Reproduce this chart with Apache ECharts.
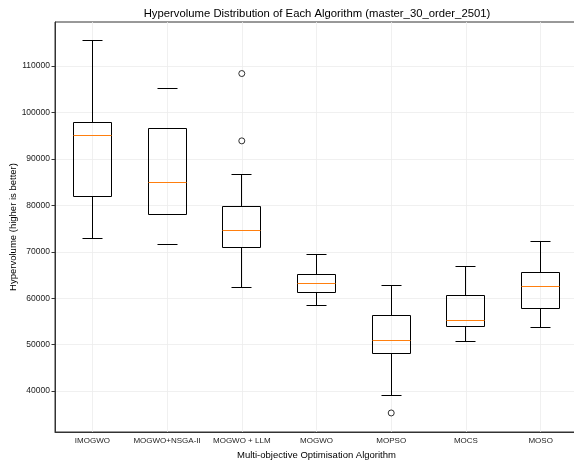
<!DOCTYPE html>
<html>
<head>
    <meta charset="utf-8">
    <title>Hypervolume boxplot</title>
    <script src="https://cdn.jsdelivr.net/npm/echarts@6/dist/echarts.min.js"></script>
</head>
<body style="margin:0;background:#fff;">
    <div id="main" style="width:574px;height:460px;"></div>
    <script type="text/javascript">
        // 类别
        var algorithms = ['IMOGWO', 'MOGWO+NSGA-II', 'MOGWO + LLM', 'MOGWO', 'MOPSO', 'MOCS', 'MOSO'];
        // 箱线: [下须, Q1, 中位数, Q3, 上须]
        var lowerWhisker = [72950, 71500, 62300, 58550, 39100, 50600, 53600];
        var q1 = [81900, 78000, 70900, 61350, 48200, 53850, 57750];
        var median = [95150, 85000, 74700, 63250, 51000, 55250, 62550];
        var q3 = [97800, 96600, 79700, 65150, 56250, 60600, 65550];
        var upperWhisker = [115600, 105100, 86750, 69350, 62850, 66750, 72150];
        // 离群点
        var outlierCategory = ['MOGWO + LLM', 'MOGWO + LLM', 'MOPSO'];
        var outlierValue = [108400, 93900, 35300];
        // 纵轴刻度
        var yTicks = [40000, 50000, 60000, 70000, 80000, 90000, 100000, 110000];
        var yMin = 31200, yMax = 119500;
        // 这一组原图没画须线
        var noWhiskerLine = ['MOGWO+NSGA-II'];

        var FONT = 'Liberation Sans, Arial, sans-serif';

        var boxData = algorithms.map(function (name, i) {
            return [i, lowerWhisker[i], q1[i], median[i], q3[i], upperWhisker[i], noWhiskerLine.indexOf(name) >= 0 ? 0 : 1];
        });
        var outliers = outlierCategory.map(function (c, i) {
            return [algorithms.indexOf(c), outlierValue[i]];
        });

        function px(v) { return Math.round(v - 0.5) + 0.5; }

        function renderBox(params, api) {
            var i = api.value(0);
            var lo = px(api.coord([i, api.value(1)])[1]);
            var b1 = px(api.coord([i, api.value(2)])[1]);
            var md = px(api.coord([i, api.value(3)])[1]);
            var b3 = px(api.coord([i, api.value(4)])[1]);
            var hi = px(api.coord([i, api.value(5)])[1]);
            var x = px(api.coord([i, api.value(1)])[0]);
            var half = Math.round(api.size([1, 0])[0] * 0.25);
            var cap = Math.round(half / 2);
            var ln = {stroke: '#000', lineWidth: 1, fill: null};
            var kids = [];
            if (api.value(6)) {
                kids.push({type: 'line', shape: {x1: x, y1: hi, x2: x, y2: b3}, style: ln});
                kids.push({type: 'line', shape: {x1: x, y1: b1, x2: x, y2: lo}, style: ln});
            }
            kids.push({type: 'line', shape: {x1: x - cap, y1: hi, x2: x + cap, y2: hi}, style: ln});
            kids.push({type: 'line', shape: {x1: x - cap, y1: lo, x2: x + cap, y2: lo}, style: ln});
            kids.push({type: 'rect', shape: {x: x - half, y: b3, width: half * 2, height: b1 - b3}, style: ln});
            kids.push({type: 'line', shape: {x1: x - half, y1: md, x2: x + half, y2: md}, style: {stroke: '#ff7f0e', lineWidth: 1}});
            return {type: 'group', children: kids};
        }

        var myChart = echarts.init(document.getElementById('main'));
        var option = {
            animation: false,
            backgroundColor: '#fff',
            title: {
                text: 'Hypervolume Distribution of Each Algorithm (master_30_order_2501)',
                left: 312,
                textAlign: 'center',
                top: 3,
                textStyle: {fontFamily: FONT, fontSize: 11.3, fontWeight: 'normal', color: '#000'}
            },
            grid: {left: 55, top: 22, width: 523, bottom: 28, outerBoundsMode: 'none', containLabel: false,
                show: true, borderColor: '#333', borderWidth: 1},
            xAxis: {
                type: 'category',
                data: algorithms,
                name: 'Multi-objective Optimisation Algorithm',
                nameLocation: 'middle',
                nameGap: 13,
                nameTextStyle: {fontFamily: FONT, fontSize: 9.5, color: '#000'},
                axisLine: {lineStyle: {color: '#333', width: 1}},
                axisTick: {alignWithLabel: true, length: 3.5, lineStyle: {color: '#333'}},
                axisLabel: {fontFamily: FONT, fontSize: 8, color: '#222', margin: 5, interval: 0},
                splitLine: {show: true, alignWithLabel: true, lineStyle: {color: '#ececec', width: 0.8}}
            },
            yAxis: {
                type: 'value',
                min: yMin,
                max: yMax,
                name: 'Hypervolume (higher is better)',
                nameLocation: 'middle',
                nameGap: 37,
                nameMoveOverlap: false,
                nameTextStyle: {fontFamily: FONT, fontSize: 9.5, color: '#000'},
                axisLine: {show: true, lineStyle: {color: '#333', width: 1}},
                axisTick: {show: true, length: 3.5, customValues: yTicks, lineStyle: {color: '#333'}},
                axisLabel: {fontFamily: FONT, fontSize: 8.5, color: '#222', margin: 5, customValues: yTicks,
                    formatter: function (v) { return String(v); }},
                splitLine: {show: true, lineStyle: {color: '#ececec', width: 0.8}}
            },
            series: [
                {
                    type: 'custom',
                    renderItem: renderBox,
                    data: boxData,
                    encode: {x: 0, y: [1, 2, 3, 4, 5]},
                    z: 3
                },
                {
                    type: 'scatter',
                    data: outliers,
                    symbol: 'circle',
                    symbolSize: 6,
                    itemStyle: {color: '#fff', borderColor: '#000', borderWidth: 1},
                    z: 4
                }
            ]
        };
        myChart.setOption(option);
    </script>
</body>
</html>
